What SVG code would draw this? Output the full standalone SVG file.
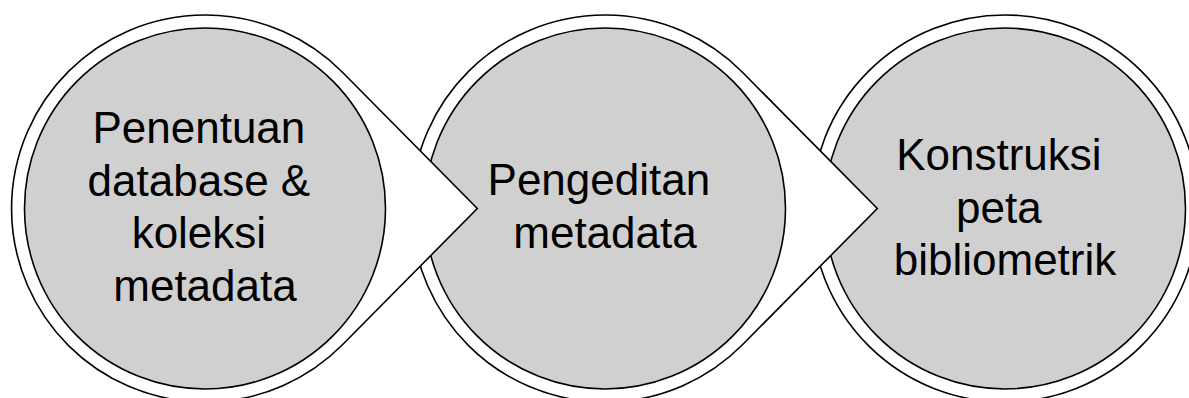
<svg xmlns="http://www.w3.org/2000/svg" width="1189" height="398" viewBox="0 0 1189 398">
  <defs>
    <path id="outer" d="M 342.7 72.5 L 477.3 208.5 L 342.7 344.5 A 193.5 193.5 0 1 1 342.7 72.5 Z"/>
  </defs>
  <style>
    .outer { fill: #ffffff; stroke: #000000; stroke-width: 1.6; stroke-linejoin: miter; }
    .inner { fill: #d0d0d0; stroke: #000000; stroke-width: 1.6; }
    .label { font-family: "Liberation Sans", Arial, sans-serif; font-size: 44px; fill: #000000; text-anchor: middle; }
  </style>
  <rect width="1189" height="398" fill="#ffffff"/>
  <g id="node3">
    <circle class="outer" cx="1005" cy="208.5" r="193.5"/>
    <circle class="inner" cx="1005" cy="208.5" r="180.5"/>
    <text class="label">
      <tspan x="1005" y="170">Konstruksi</tspan>
      <tspan x="1005" y="222.5">peta</tspan>
      <tspan x="1005" y="275">bibliometrik</tspan>
    </text>
  </g>
  <g id="node2">
    <use href="#outer" class="outer" transform="translate(400,0)"/>
    <circle class="inner" cx="605" cy="208.5" r="180.5"/>
    <text class="label">
      <tspan x="605" y="195">Pengeditan</tspan>
      <tspan x="605" y="248">metadata</tspan>
    </text>
  </g>
  <g id="node1">
    <use href="#outer" class="outer"/>
    <circle class="inner" cx="205" cy="208.5" r="180.5"/>
    <text class="label">
      <tspan x="205" y="143">Penentuan</tspan>
      <tspan x="205" y="195.5">database &amp;</tspan>
      <tspan x="205" y="248">koleksi</tspan>
      <tspan x="205" y="300.5">metadata</tspan>
    </text>
  </g>
</svg>
